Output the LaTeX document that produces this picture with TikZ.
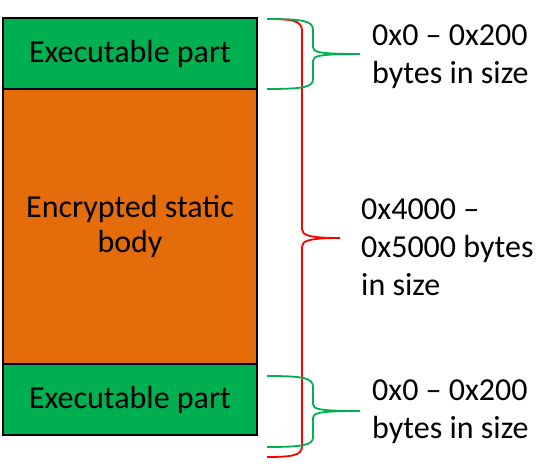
\documentclass[tikz,border=0pt]{standalone}
\usepackage{fontspec}
\setmainfont{Carlito}
\usepackage{tikz}
\usetikzlibrary{positioning}
\definecolor{partgreen}{HTML}{00B050}
\definecolor{bodyorange}{HTML}{E46C0A}
\definecolor{bracered}{HTML}{FF0000}
\tikzset{
  part/.style={draw=black, line width=2pt, outer sep=0pt, minimum width=254pt,
    align=center, font=\fontsize{32}{35}\selectfont},
  execpart/.style={part, fill=partgreen, minimum height=71pt},
  encbody/.style={part, fill=bodyorange, minimum height=275pt},
  greenbrace/.style={draw=partgreen, line width=1.8pt},
  redbrace/.style={draw=bracered, line width=1.8pt},
  sizelabel/.style={anchor=west, align=left, inner sep=0pt, font=\fontsize{32}{38}\selectfont}
}

\begin{document}
\begin{tikzpicture}[x=1pt, y=-1pt]
  \useasboundingbox (0,0) rectangle (540,463);
  % the three parts of the file
  \node[execpart] (top) at (130,53.5) {Executable part};
  \node[encbody, below=0pt of top] (body) {Encrypted static\\body};
  \node[execpart, below=0pt of body] (bottom) {Executable part};
  % tips of the braces
  \coordinate (toptip) at (360,54);
  \coordinate (bodytip) at (340,238);
  \coordinate (bottomtip) at (360,411);
  % braces
  \draw[redbrace] (267,19) .. controls (294,19) and (302,21) .. (302,31) -- (302,229)
    .. controls (302,235) and (308,238) .. (bodytip)
    .. controls (308,238) and (302,241) .. (302,247) -- (302,446)
    .. controls (302,455) and (294,457) .. (267,457);
  \draw[greenbrace] (267,19) .. controls (304,19) and (313,21) .. (313,30) -- (313,47)
    .. controls (313,52) and (318,54) .. (toptip)
    .. controls (318,54) and (313,56) .. (313,61) -- (313,79)
    .. controls (313,87) and (304,89) .. (267,89);
  \draw[greenbrace] (267,376) .. controls (304,376) and (313,378) .. (313,387) -- (313,404)
    .. controls (313,409) and (318,411) .. (bottomtip)
    .. controls (318,411) and (313,413) .. (313,418) -- (313,437)
    .. controls (313,445) and (304,447) .. (267,447);
  % sizes
  \node[sizelabel] (topsize) at (372,57) {0x0 -- 0x200\\bytes in size};
  \node[sizelabel] (bodysize) at (361,247) {0x4000 --\\0x5000 bytes\\in size};
  \node[sizelabel] (bottomsize) at (372,412) {0x0 -- 0x200\\bytes in size};
\end{tikzpicture}
\end{document}
